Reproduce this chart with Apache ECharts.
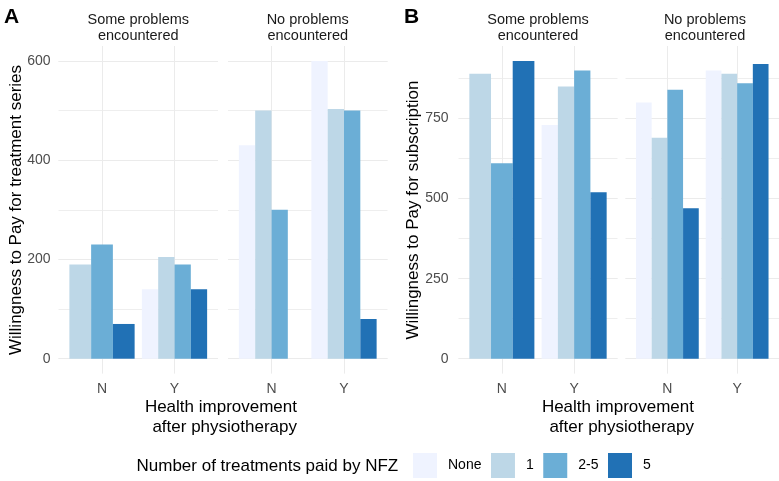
<!DOCTYPE html>
<html>
<head>
<meta charset="utf-8">
<script src="https://cdn.jsdelivr.net/npm/echarts@6/dist/echarts.min.js"></script>
<style>
html, body { margin: 0; padding: 0; background: #fff; }
#chart { width: 779px; height: 481px; }
</style>
</head>
<body>
<div id="chart"></div>
<script>
var levels = ['None', '1', '2-5', '5'];
var levelColors = ['#eff3ff', '#bdd7e7', '#6baed6', '#2171b5'];
var improvement = ['N', 'Y'];
var facetNames = ['Some problems\nencountered', 'No problems\nencountered'];

// panel A: willingness to pay for a treatment series, one value per level (null = group absent)
var seriesSomeN = [null, 190, 230, 70];
var seriesSomeY = [140, 205, 190, 140];
var seriesNoN = [430, 500, 300, 0];
var seriesNoY = [600, 503, 500, 80];

// panel B: willingness to pay for a subscription
var subSomeN = [null, 890, 610, 930];
var subSomeY = [730, 850, 900, 520];
var subNoN = [800, 690, 840, 470];
var subNoY = [900, 890, 860, 920];

var FONT = 'Liberation Sans, Arial, sans-serif';

var panels = [
    { facets: [[seriesSomeN, seriesSomeY], [seriesNoN, seriesNoY]], major: 200, minor: 100, lefts: [58.5, 228], width: 159.5, labelMargin: 8 },
    { facets: [[subSomeN, subSomeY], [subNoN, subNoY]], major: 250, minor: 125, lefts: [458.5, 625.5], width: 159, labelMargin: 10 }
];

// ggplot style dodge: bars of one category share 0.9 of the band
function dodge(values, catIndex) {
    var present = [];
    values.forEach(function (v, i) {
        if (v !== null) present.push(i);
    });
    var w = 0.9 / present.length;
    var out = {};
    present.forEach(function (lvl, k) {
        out[lvl] = [catIndex + 1 + (k - (present.length - 1) / 2) * w, values[lvl], w];
    });
    return out;
}

function renderBar(params, api) {
    var x = api.value(0), v = api.value(1), w = api.value(2);
    var p0 = api.coord([x - w / 2, v]);
    var p1 = api.coord([x + w / 2, 0]);
    return {
        type: 'rect',
        shape: { x: p0[0], y: p0[1], width: p1[0] - p0[0], height: p1[1] - p0[1] },
        style: { fill: api.visual('color') }
    };
}

function tickName(v) {
    var r = Math.round(v);
    return Math.abs(v - r) < 1e-6 && improvement[r - 1] ? improvement[r - 1] : '';
}

var grids = [], xAxes = [], yAxes = [], series = [], graphics = [];
var gridTop = 46, gridHeight = 327.6;

panels.forEach(function (panel) {
    var all = [];
    panel.facets.forEach(function (f) {
        f.forEach(function (arr) {
            arr.forEach(function (v) { if (v !== null) all.push(v); });
        });
    });
    var dataMax = Math.max.apply(null, all);
    var yMin = -0.05 * dataMax, yMax = 1.05 * dataMax;

    panel.facets.forEach(function (facet, fi) {
        var g = grids.length;
        grids.push({ left: panel.lefts[fi], top: gridTop, width: panel.width, height: gridHeight });
        xAxes.push({
            type: 'value', gridIndex: g, min: 0.4, max: 2.6, minInterval: 1, maxInterval: 1,
            axisLine: { show: false }, axisTick: { show: false },
            axisLabel: {
                margin: 9, color: '#4d4d4d', fontSize: 14, fontFamily: FONT,
                showMinLabel: false, showMaxLabel: false, formatter: tickName
            },
            splitLine: { show: true, showMinLine: false, showMaxLine: false, lineStyle: { color: '#ebebeb', width: 1 } }
        });
        var majorIdx = yAxes.length;
        yAxes.push({
            type: 'value', gridIndex: g, min: yMin, max: yMax, minInterval: panel.major, maxInterval: panel.major,
            axisLine: { show: false }, axisTick: { show: false },
            axisLabel: {
                show: fi === 0, margin: panel.labelMargin, color: '#4d4d4d', fontSize: 14, fontFamily: FONT,
                showMinLabel: false, showMaxLabel: false
            },
            splitLine: { show: true, showMinLine: false, showMaxLine: false, lineStyle: { color: '#ebebeb', width: 1 } },
            z: 1
        });
        yAxes.push({
            type: 'value', gridIndex: g, min: yMin, max: yMax, minInterval: panel.minor, maxInterval: panel.minor,
            axisLine: { show: false }, axisTick: { show: false }, axisLabel: { show: false },
            splitLine: { show: true, showMinLine: false, showMaxLine: false, lineStyle: { color: '#eeeeee', width: 1 } },
            z: 0
        });
        var byCat = facet.map(function (vals, ci) { return dodge(vals, ci); });
        levels.forEach(function (lvl, li) {
            var data = [];
            byCat.forEach(function (c) { if (c[li]) data.push(c[li]); });
            series.push({
                type: 'custom', name: lvl, xAxisIndex: g, yAxisIndex: majorIdx,
                renderItem: renderBar, itemStyle: { color: levelColors[li] },
                encode: { x: 0, y: 1 }, data: data, z: 3
            });
        });
        graphics.push({
            type: 'text', x: panel.lefts[fi] + panel.width / 2, y: 27.5,
            style: { text: facetNames[fi], align: 'center', verticalAlign: 'middle', fontSize: 14.5, lineHeight: 16, fontFamily: FONT, fill: '#1a1a1a' }
        });
    });
});

function textStyle(t, extra) {
    var s = { text: t, fontFamily: FONT, fill: '#000' };
    for (var k in extra) s[k] = extra[k];
    return s;
}

graphics.push(
    { type: 'text', x: 4, y: 17, style: textStyle('A', { fontSize: 21, fontWeight: 'bold', verticalAlign: 'middle' }) },
    { type: 'text', x: 404, y: 17, style: textStyle('B', { fontSize: 21, fontWeight: 'bold', verticalAlign: 'middle' }) },
    { type: 'text', x: 16.5, y: 210, rotation: Math.PI / 2, style: textStyle('Willingness to Pay for treatment series', { fontSize: 17, align: 'center', verticalAlign: 'middle' }) },
    { type: 'text', x: 413, y: 210, rotation: Math.PI / 2, style: textStyle('Willingness to Pay for subscription', { fontSize: 17, align: 'center', verticalAlign: 'middle' }) },
    { type: 'text', x: 297, y: 417, style: textStyle('Health improvement\nafter physiotherapy', { fontSize: 17, lineHeight: 20, align: 'right', verticalAlign: 'middle' }) },
    { type: 'text', x: 694, y: 417, style: textStyle('Health improvement\nafter physiotherapy', { fontSize: 17, lineHeight: 20, align: 'right', verticalAlign: 'middle' }) },
    { type: 'text', x: 136.5, y: 466, style: textStyle('Number of treatments paid by NFZ', { fontSize: 17, verticalAlign: 'middle' }) }
);

var chart = echarts.init(document.getElementById('chart'), null, { renderer: 'canvas' });
chart.setOption({
    animation: false,
    backgroundColor: '#ffffff',
    grid: grids,
    xAxis: xAxes,
    yAxis: yAxes,
    series: series,
    legend: {
        data: levels, left: 408, top: 448, icon: 'rect', itemWidth: 24, itemHeight: 25, itemGap: 9.5,
        selectedMode: false,
        textStyle: { fontSize: 14, color: '#000', fontFamily: FONT, padding: [0, 0, 0, 6] }
    },
    graphic: graphics
});
</script>
</body>
</html>
